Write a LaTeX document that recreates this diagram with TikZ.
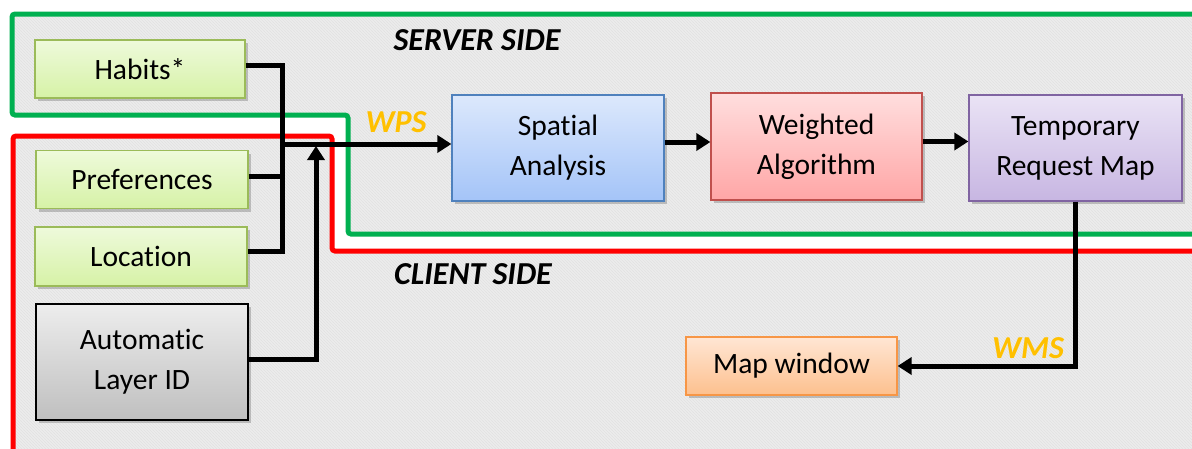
\documentclass[tikz,border=0pt]{standalone}
\usepackage{fontspec}
\setmainfont{Carlito}[Ligatures={NoCommon}]
\usetikzlibrary{shadows,arrows.meta,patterns}
\definecolor{bggray}{HTML}{ECECEC}
\definecolor{hatch}{HTML}{E2E2E2}
\definecolor{grn}{HTML}{00B050}
\definecolor{rd}{HTML}{FF0000}
\definecolor{lbl}{HTML}{FFC000}
\definecolor{gline}{HTML}{9BBB59}
\definecolor{gtop}{HTML}{EEFADB}
\definecolor{gbot}{HTML}{D6F2A6}
\definecolor{btop}{HTML}{DCE8FC}
\definecolor{bbot}{HTML}{A4C4F8}
\definecolor{bline}{HTML}{4F81BD}
\definecolor{rtop}{HTML}{FFDEDE}
\definecolor{rbot}{HTML}{FFA6A6}
\definecolor{rline}{HTML}{C0504D}
\definecolor{ptop}{HTML}{EAE3F5}
\definecolor{pbot}{HTML}{C7B6E2}
\definecolor{pline}{HTML}{8064A2}
\definecolor{otop}{HTML}{FFE6D4}
\definecolor{obot}{HTML}{FDC08E}
\definecolor{oline}{HTML}{F79646}
\definecolor{gytop}{HTML}{EDEDED}
\definecolor{gybot}{HTML}{BFBFBF}
\begin{document}
\begin{tikzpicture}[x=1pt,y=-1pt,
  region/.style={line width=5pt, rounded corners=3pt},
  box/.style={draw, line width=1.2pt, rectangle, align=center, inner sep=0pt,
    font=\fontsize{29.5}{40}\selectfont,
    drop shadow={shadow xshift=3pt, shadow yshift=-3pt, opacity=.35, fill=black!60}},
  conn/.style={line width=5pt, draw=black},
  tip/.style={-{Triangle[length=14pt,width=17pt]}},
  sidelabel/.style={font=\fontsize{32}{38}\selectfont\bfseries\itshape},
  proto/.style={font=\fontsize{32}{38}\selectfont\bfseries\itshape, text=lbl}
]
\useasboundingbox (0,0) rectangle (1192,448);
\clip (0,0) rectangle (1192,448);
\fill[white] (0,0) rectangle (1192,448);
% region fills
\fill[bggray] (12,14) -- (1210,14) -- (1210,234) -- (348,234) -- (348,115) -- (12,115) -- cycle;
\fill[bggray] (13,136) -- (332,136) -- (332,251) -- (1210,251) -- (1210,470) -- (13,470) -- cycle;
\fill[pattern=north west lines, pattern color=hatch] (12,14) -- (1210,14) -- (1210,234) -- (348,234) -- (348,115) -- (12,115) -- cycle;
\fill[pattern=north west lines, pattern color=hatch] (13,136) -- (332,136) -- (332,251) -- (1210,251) -- (1210,470) -- (13,470) -- cycle;
% region borders
\draw[region, draw=grn] (12,14) -- (1210,14) -- (1210,234) -- (348,234) -- (348,115) -- (12,115) -- cycle;
\draw[region, draw=rd] (13,136) -- (332,136) -- (332,251) -- (1210,251) -- (1210,470) -- (13,470) -- cycle;
% labels
\node[sidelabel] (server) at (477,40) {SERVER SIDE};
\node[sidelabel] (client) at (473,274) {CLIENT SIDE};
\node[proto] (wps) at (396,122) {WPS};
\node[proto] (wms) at (1028,348) {WMS};
% nodes
\node[box, draw=gline, top color=gtop, bottom color=gbot, minimum width=210pt, minimum height=58pt] (habits) at (140,69) {Habits*};
\node[box, draw=gline, top color=gtop, bottom color=gbot, minimum width=212pt, minimum height=58pt] (pref) at (142,179.5) {Preferences};
\node[box, draw=gline, top color=gtop, bottom color=gbot, minimum width=212pt, minimum height=59pt] (loc) at (141,256.5) {Location};
\node[box, draw=black, top color=gytop, bottom color=gybot, minimum width=212pt, minimum height=116pt] (auto) at (142,362) {Automatic\\Layer ID};
\node[box, draw=bline, top color=btop, bottom color=bbot, minimum width=212pt, minimum height=106pt] (spatial) at (558,148) {Spatial\\Analysis};
\node[box, draw=rline, top color=rtop, bottom color=rbot, minimum width=211pt, minimum height=107pt] (weighted) at (816.5,146.5) {Weighted\\Algorithm};
\node[box, draw=pline, top color=ptop, bottom color=pbot, minimum width=213pt, minimum height=106pt] (temp) at (1075.5,148) {Temporary\\Request Map};
\node[box, draw=oline, top color=otop, bottom color=obot, minimum width=211pt, minimum height=58pt] (map) at (791.5,366) {Map window};
% junctions
\coordinate (jx) at (282,144);
\coordinate (jup) at (316,144);
% connectors
\draw[conn] ([yshift=4pt]habits.east) -| (jx) |- ([yshift=5pt]loc.east);
\draw[conn] ([yshift=3.5pt]pref.east) -| (jx);
\draw[conn, tip] (jx) -- (jx -| spatial.west);
\draw[conn, tip] ([yshift=3pt]auto.east) -| ([yshift=-2pt]jup);
\path ([yshift=6pt]spatial.east) coordinate (s1);
\draw[conn, tip] (s1) -- (s1 -| weighted.west);
\path ([yshift=5pt]weighted.east) coordinate (w1);
\draw[conn, tip] (w1) -- (w1 -| temp.west);
\draw[conn, tip] (temp.south) |- (map.east);
\end{tikzpicture}
\end{document}
